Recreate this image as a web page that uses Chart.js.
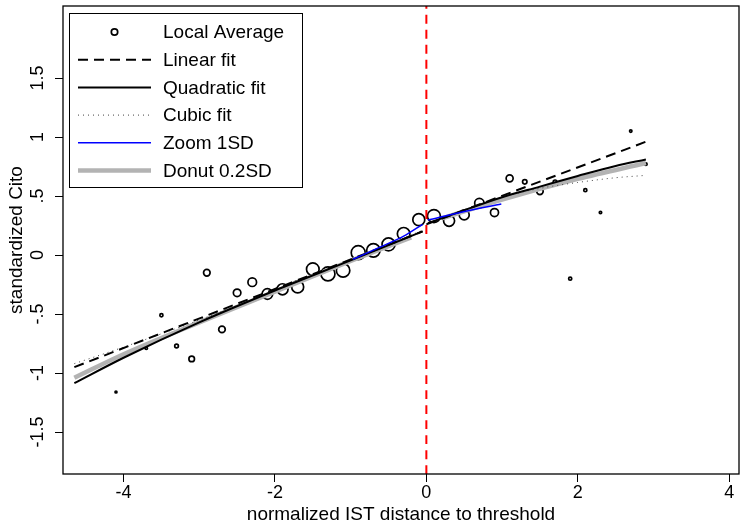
<!DOCTYPE html>
<html>
<head>
<meta charset="utf-8">
<script src="https://cdn.jsdelivr.net/npm/chart.js@4.4.0/dist/chart.umd.min.js"></script>
<style>
  body { margin: 0; background: #fff; }
  canvas { display: block; }
</style>
</head>
<body>
<canvas id="rd-chart" width="740" height="525"></canvas>
<script>
// bins: local averages (x = bin center, y = mean, n = relative weight)
const binX = [-4.1, -3.7, -3.5, -3.3, -3.1, -2.9, -2.7, -2.5, -2.3, -2.1, -1.9, -1.7, -1.5, -1.3, -1.1, -0.9, -0.7, -0.5, -0.3, -0.1,
              0.1, 0.3, 0.5, 0.7, 0.9, 1.1, 1.3, 1.5, 1.7, 1.9, 2.1, 2.3, 2.7, 2.9];
const binY = [-1.16, -0.79, -0.51, -0.77, -0.88, -0.15, -0.63, -0.32, -0.23, -0.33, -0.29, -0.27, -0.12, -0.16, -0.13, 0.02, 0.04, 0.09, 0.18, 0.30,
              0.33, 0.29, 0.34, 0.44, 0.36, 0.65, 0.62, 0.54, 0.62, -0.20, 0.55, 0.36, 1.05, 0.77];
const binN = [2, 3, 5, 7, 16, 22, 22, 29, 38, 57, 62, 73, 81, 100, 92, 100, 92, 86, 81, 73,
              86, 62, 51, 45, 33, 25, 10, 22, 7, 5, 5, 3, 3, 3];

// fitted curves, left and right of the threshold
const linLeftX = [-4.65, -0.05];
const linLeftY = [-0.95, 0.20];
const linRightX = [0.0, 2.9];
const linRightY = [0.26, 0.96];

const quadLeftX = [-4.65, -4, -3, -2, -1, -0.05];
const quadLeftY = [-1.085, -0.87, -0.57, -0.30, -0.045, 0.20];
const quadRightX = [0.02, 0.5, 1, 1.5, 2, 2.5, 2.9];
const quadRightY = [0.27, 0.38, 0.49, 0.58, 0.67, 0.755, 0.81];

const cubLeftX = [-4.65, -4, -3, -2, -1, -0.05];
const cubLeftY = [-0.92, -0.78, -0.55, -0.30, -0.045, 0.21];
const cubRightX = [0.02, 1, 1.5, 2, 2.5, 2.9];
const cubRightY = [0.27, 0.49, 0.565, 0.615, 0.655, 0.675];

const zoomLeftX = [-0.97, -0.62, -0.3, -0.05];
const zoomLeftY = [-0.036, 0.065, 0.16, 0.26];
const zoomRightX = [0.02, 0.49, 0.99];
const zoomRightY = [0.297, 0.367, 0.432];

const donutLeftX = [-4.65, -4, -3, -2, -1, -0.2];
const donutLeftY = [-1.04, -0.84, -0.57, -0.31, -0.05, 0.15];
const donutRightX = [0.2, 1, 2, 2.9];
const donutRightY = [0.31, 0.47, 0.645, 0.78];

const threshold = 0;
const xTicks = [-4, -2, 0, 2, 4];
const yTicks = [-1.5, -1, -0.5, 0, 0.5, 1, 1.5];
const xLimits = [-4.8, 4.13];
const yLimits = [-1.855, 2.11];

const legendLabels = ['Local Average', 'Linear fit', 'Quadratic fit', 'Cubic fit', 'Zoom 1SD', 'Donut 0.2SD'];

function pts(xs, ys) {
    return xs.map((x, i) => ({ x: x, y: ys[i] }));
}

function fmt(v) {
    // labels like .5 and -.5
    let s = String(v);
    return s.replace(/^0\./, '.').replace(/^-0\./, '-.');
}

const FONT = "'Liberation Sans', Arial, sans-serif";

function curve(data, color, width, dash, order) {
    return {
        type: 'line',
        data: data,
        borderColor: color,
        borderWidth: width,
        borderDash: dash,
        pointRadius: 0,
        fill: false,
        cubicInterpolationMode: 'monotone',
        order: order
    };
}

/* legend drawn inside the plot box */
const insideLegend = {
    id: 'insideLegend',
    afterDraw(chart) {
        const c = chart.ctx;
        const a = chart.chartArea;
        const bx = a.left + 6, by = a.top + 7, bw = 233, bh = 174;
        c.save();
        c.fillStyle = '#fff';
        c.fillRect(bx, by, bw, bh);
        c.strokeStyle = '#000';
        c.lineWidth = 1;
        c.strokeRect(bx + 0.5, by + 0.5, bw, bh);

        const x1 = bx + 9, x2 = bx + 82, tx = bx + 94;
        const rowH = 27.7;
        c.font = '19px ' + FONT;
        c.textBaseline = 'middle';
        c.textAlign = 'left';
        legendLabels.forEach((lab, i) => {
            const y = by + 19 + i * rowH;
            c.setLineDash([]);
            if (i === 0) {
                c.strokeStyle = '#000';
                c.lineWidth = 1.7;
                c.beginPath();
                c.arc((x1 + x2) / 2, y, 3.2, 0, Math.PI * 2);
                c.stroke();
            } else {
                const st = [
                    null,
                    ['#000', 2, [10, 6]],
                    ['#000', 2, []],
                    ['#444', 1, [1, 4]],
                    ['#0000ff', 1.5, []],
                    ['#b3b3b3', 4.5, []]
                ][i];
                c.strokeStyle = st[0];
                c.lineWidth = st[1];
                c.setLineDash(st[2]);
                c.beginPath();
                c.moveTo(x1, y);
                c.lineTo(x2, y);
                c.stroke();
            }
            c.fillStyle = '#000';
            c.fillText(lab, tx, y + 1);
        });
        c.restore();
    }
};

/* plot frame */
const frame = {
    id: 'frame',
    afterDatasetsDraw(chart) {
        const a = chart.chartArea;
        const c = chart.ctx;
        c.save();
        c.strokeStyle = '#000';
        c.lineWidth = 1.3;
        c.strokeRect(a.left, a.top, a.right - a.left, a.bottom - a.top);
        c.restore();
    }
};

const ctx = document.getElementById('rd-chart');

new Chart(ctx, {
    type: 'scatter',
    data: {
        datasets: [
            {
                type: 'scatter',
                data: pts(binX, binY),
                pointRadius: binN.map(n => 0.7 * Math.sqrt(n)),
                pointBorderWidth: 1.7,
                pointBorderColor: '#000',
                pointBackgroundColor: 'rgba(0,0,0,0)',
                order: 10
            },
            curve(pts(donutLeftX, donutLeftY), '#b3b3b3', 4.5, [], 8),
            curve(pts(donutRightX, donutRightY), '#b3b3b3', 4.5, [], 8),
            curve(pts(cubLeftX, cubLeftY), '#444', 1, [1, 4], 6),
            curve(pts(cubRightX, cubRightY), '#444', 1, [1, 4], 6),
            curve(pts(linLeftX, linLeftY), '#000', 2, [10, 6], 5),
            curve(pts(linRightX, linRightY), '#000', 2, [10, 6], 5),
            curve(pts(quadLeftX, quadLeftY), '#000', 2, [], 4),
            curve(pts(quadRightX, quadRightY), '#000', 2, [], 4),
            curve(pts(zoomLeftX, zoomLeftY), '#0000ff', 1.5, [], 3),
            curve(pts(zoomRightX, zoomRightY), '#0000ff', 1.5, [], 3),
            curve([{ x: threshold, y: yLimits[0] }, { x: threshold, y: yLimits[1] }], '#ff0000', 2, [9, 6], 2)
        ]
    },
    options: {
        responsive: false,
        animation: false,
        layout: { autoPadding: false, padding: { top: 6, right: 1, left: 0, bottom: 0 } },
        plugins: {
            legend: { display: false },
            tooltip: { enabled: false }
        },
        scales: {
            x: {
                type: 'linear',
                min: xLimits[0],
                max: xLimits[1],
                afterBuildTicks: s => { s.ticks = xTicks.map(v => ({ value: v })); },
                afterFit: s => { s.height = 51; s.paddingLeft = 0; s.paddingRight = 0; },
                grid: { display: true, drawOnChartArea: false, drawTicks: true, tickLength: 8, color: '#000', lineWidth: 1 },
                border: { display: false },
                ticks: { color: '#000', font: { family: FONT, size: 18 }, padding: 0, maxRotation: 0, callback: v => fmt(v) },
                title: { display: true, text: 'normalized IST distance to threshold', color: '#000', font: { family: FONT, size: 19, lineHeight: 1 }, padding: { top: 0, bottom: 1 } }
            },
            y: {
                type: 'linear',
                min: yLimits[0],
                max: yLimits[1],
                afterBuildTicks: s => { s.ticks = yTicks.map(v => ({ value: v })); },
                afterFit: s => { s.width = 63; s.paddingTop = 0; s.paddingBottom = 0; },
                grid: { display: true, drawOnChartArea: false, drawTicks: true, tickLength: 8, color: '#000', lineWidth: 1 },
                border: { display: false },
                ticks: { color: '#000', font: { family: FONT, size: 18 }, padding: 1.5, minRotation: 90, maxRotation: 90, crossAlign: 'center', callback: v => fmt(v) },
                title: { display: true, text: 'standardized Cito', color: '#000', font: { family: FONT, size: 19, lineHeight: 1 }, padding: { top: 7, bottom: 0 } }
            }
        }
    },
    plugins: [frame, insideLegend]
});
</script>
</body>
</html>
